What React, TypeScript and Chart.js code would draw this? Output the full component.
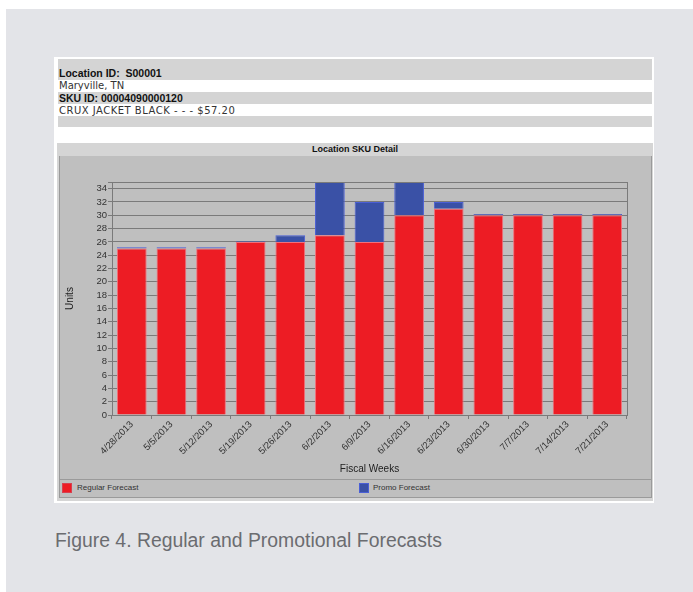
import React, { useEffect, useRef } from "react";
import { Chart, registerables } from "chart.js";

Chart.register(...registerables);

const weeks = [
  "4/28/2013", "5/5/2013", "5/12/2013", "5/19/2013", "5/26/2013", "6/2/2013", "6/9/2013",
  "6/16/2013", "6/23/2013", "6/30/2013", "7/7/2013", "7/14/2013", "7/21/2013",
];
const regularForecast = [25, 25, 25, 26, 26, 27, 26, 30, 31, 30, 30, 30, 30];
const promoForecast = [0.2, 0.2, 0.2, 0.1, 1, 8, 6, 5, 1, 0.2, 0.2, 0.2, 0.2];
const yTicks = [0, 2, 4, 6, 8, 10, 12, 14, 16, 18, 20, 22, 24, 26, 28, 30, 32, 34];

const RED = "#ed1c24";
const BLUE = "#3a51a6";
const GRID = "#7a7a7a";

const frame = {
  id: "frame",
  afterDraw(chart: any) {
    const { ctx, chartArea } = chart;
    ctx.save();
    ctx.strokeStyle = GRID;
    ctx.lineWidth = 1;
    ctx.strokeRect(
      Math.round(chartArea.left) + 0.5,
      Math.round(chartArea.top) + 0.5,
      Math.round(chartArea.right - chartArea.left),
      Math.round(chartArea.bottom - chartArea.top)
    );
    ctx.restore();
  },
};

function ChartBox() {
  const ref = useRef<HTMLCanvasElement | null>(null);
  useEffect(() => {
    if (!ref.current) return;
    const chart = new Chart(ref.current, {
      type: "bar",
      data: {
        labels: weeks,
        datasets: [
          {
            label: "Regular Forecast",
            data: regularForecast,
            backgroundColor: RED,
            borderColor: "#f2707a",
            borderWidth: 1,
            barPercentage: 0.75,
            categoryPercentage: 1,
          },
          {
            label: "Promo Forecast",
            data: promoForecast,
            backgroundColor: BLUE,
            borderColor: "#4a5fd6",
            borderWidth: 1,
            barPercentage: 0.75,
            categoryPercentage: 1,
          },
        ],
      },
      options: {
        animation: false,
        responsive: false,
        maintainAspectRatio: false,
        layout: { padding: { top: 26, right: 24, left: 0, bottom: 0 } },
        plugins: { legend: { display: false }, tooltip: { enabled: false } },
        scales: {
          x: {
            stacked: true,
            grid: { drawOnChartArea: false, drawTicks: true, tickLength: 4, color: GRID },
            border: { color: GRID },
            ticks: {
              maxRotation: 45,
              minRotation: 45,
              autoSkip: false,
              padding: 0,
              color: "#333",
              font: { family: "Liberation Sans, Arial, sans-serif", size: 9.5 },
            },
            title: {
              display: true,
              text: "Fiscal Weeks",
              color: "#222",
              padding: 4,
              font: { family: "Liberation Sans, Arial, sans-serif", size: 10 },
            },
            afterFit(scale: any) {
              scale.height = 64;
            },
          },
          y: {
            stacked: true,
            min: 0,
            max: 35,
            afterBuildTicks(scale: any) {
              scale.ticks = yTicks.map((v) => ({ value: v })).concat([{ value: 35 }]);
            },
            grid: { color: GRID, tickLength: 4 },
            border: { color: GRID },
            ticks: {
              autoSkip: false,
              padding: 1,
              color: "#333",
              font: { family: "Liberation Sans, Arial, sans-serif", size: 9.5 },
              callback: (v: any) => (v === 35 ? "" : String(v)),
            },
            title: {
              display: true,
              text: "Units",
              color: "#222",
              padding: 4,
              font: { family: "Liberation Sans, Arial, sans-serif", size: 10 },
            },
            afterFit(scale: any) {
              scale.width = 52;
            },
          },
        },
      },
      plugins: [frame],
    } as any);
    return () => chart.destroy();
  }, []);
  return <canvas ref={ref} width={591} height={323} style={{ width: 591, height: 323, display: "block" }} />;
}

const abs = (l: number, t: number, w: number, h: number, extra: React.CSSProperties = {}): React.CSSProperties => ({
  position: "absolute",
  left: l,
  top: t,
  width: w,
  height: h,
  boxSizing: "border-box",
  ...extra,
});

export default function App() {
  const bold: React.CSSProperties = {
    fontFamily: "Liberation Sans, Arial, sans-serif",
    fontWeight: "bold",
    fontSize: 10.5,
    color: "#111",
    paddingLeft: 1,
  };
  const reg: React.CSSProperties = {
    fontFamily: "DejaVu Sans, Verdana, sans-serif",
    fontSize: 10,
    color: "#333",
    paddingLeft: 1,
    whiteSpace: "nowrap",
  };
  return (
    <div style={{ position: "fixed", left: 0, top: 0, width: 693, height: 592, background: "#fff", overflow: "hidden" }}>
      <div style={abs(6, 9, 687, 583, { background: "#e3e4e8" })} />
      <div style={abs(54, 57, 600, 446, { background: "#fff" })} />
      {/* header rows */}
      <div style={abs(58, 59, 594, 21, { background: "#d4d4d4", ...bold, lineHeight: "28px" })}>Location ID:&nbsp; S00001</div>
      <div style={abs(58, 80, 594, 12, { ...reg, lineHeight: "12px" })}>Maryville, TN</div>
      <div style={abs(58, 92, 594, 12, { background: "#d4d4d4", ...bold, lineHeight: "13px" })}>SKU ID: 00004090000120</div>
      <div style={abs(58, 104, 594, 12, { ...reg, lineHeight: "13px", letterSpacing: 0.5 })}>CRUX JACKET BLACK - - - $57.20</div>
      <div style={abs(58, 116, 594, 11, { background: "#d4d4d4" })} />
      {/* title bar */}
      <div
        style={abs(57, 143, 596, 13, {
          background: "#d5d5d5",
          fontFamily: "Liberation Sans, Arial, sans-serif",
          fontWeight: "bold",
          fontSize: 9,
          color: "#111",
          textAlign: "center",
          lineHeight: "13px",
        })}
      >
        Location SKU Detail
      </div>
      {/* chart panel */}
      <div style={abs(57, 156, 596, 345, { background: "#d5d5d5" })} />
      <div style={abs(59, 156, 593, 342, { background: "#bfbfbf", borderLeft: "1px solid #9a9a9a", borderRight: "1px solid #9a9a9a", borderBottom: "1px solid #9a9a9a" })} />
      <div style={abs(60, 156, 591, 323)}>
        <ChartBox />
      </div>
      {/* legend bar */}
      <div style={abs(59, 479, 593, 19, { borderTop: "1px solid #9a9a9a" })}>
        <div style={abs(3, 3, 10, 10, { background: RED, border: "1px solid #d84050" })} />
        <div
          style={abs(18, 2, 200, 12, {
            fontFamily: "Liberation Sans, Arial, sans-serif",
            fontSize: 8,
            color: "#333",
            lineHeight: "12px",
          })}
        >
          Regular Forecast
        </div>
        <div style={abs(300, 3, 10, 10, { background: BLUE, border: "1px solid #4a5fd6" })} />
        <div
          style={abs(314, 2, 200, 12, {
            fontFamily: "Liberation Sans, Arial, sans-serif",
            fontSize: 8,
            color: "#333",
            lineHeight: "12px",
          })}
        >
          Promo Forecast
        </div>
      </div>
      {/* caption */}
      <div
        style={abs(55, 527, 520, 26, {
          fontFamily: "Liberation Sans, Arial, sans-serif",
          fontSize: 19.4,
          color: "#6b6c70",
          lineHeight: "26px",
          whiteSpace: "nowrap",
        })}
      >
        Figure 4. Regular and Promotional Forecasts
      </div>
    </div>
  );
}
